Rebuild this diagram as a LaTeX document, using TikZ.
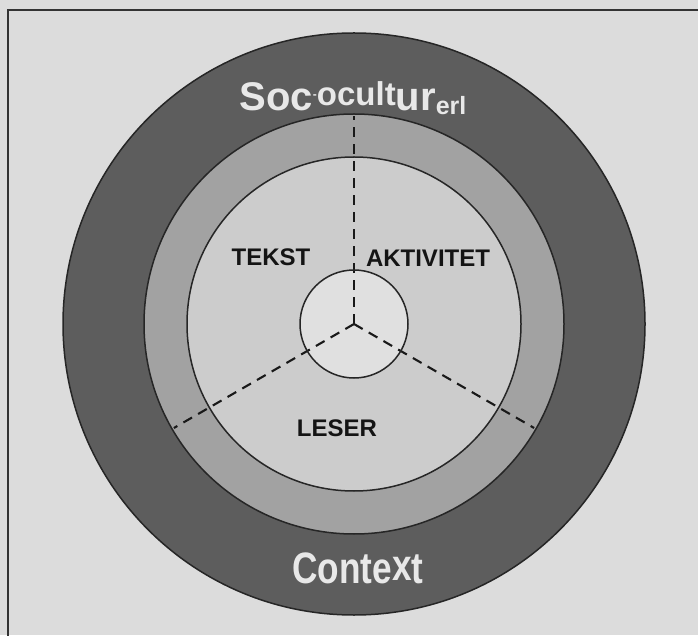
\documentclass[tikz,border=0pt]{standalone}
\usepackage{fontspec}
\setmainfont{Liberation Sans}[BoldFont={Liberation Sans Bold}]
\usepackage{tikz}
\usetikzlibrary{positioning}
\definecolor{lkbg}{HTML}{DCDCDC}
\definecolor{lkouter}{HTML}{5D5D5D}
\definecolor{lkmid}{HTML}{A2A2A2}
\definecolor{lkinner}{HTML}{CCCCCC}
\definecolor{lkcore}{HTML}{E0E0E0}
\definecolor{lkpale}{HTML}{E8E8E8}

\begin{document}
\begin{tikzpicture}[x=1pt,y=1pt,
  ring/.style={draw=black!85,line width=1.5pt},
  spoke/.style={draw=black!90,line width=2.1pt,dash pattern=on 10pt off 7pt},
  part/.style={font=\fontsize{24}{24}\selectfont\bfseries,text=black!92,inner sep=0pt},
  ringlbl/.style={font=\fontsize{40}{40}\selectfont\bfseries,text=lkpale,inner sep=0pt}]
  \useasboundingbox (0,0) rectangle (698,635);
  % paper and frame
  \fill[lkbg] (0,0) rectangle (698,635);
  \draw[line width=2.5pt,black!80] (8,-5) |- (705,625);
  \coordinate (c) at (354,311);
  % rings from outside in
  \fill[lkouter] (c) circle[radius=291pt];
  \draw[ring] (c) circle[radius=291pt];
  \fill[lkmid] (c) circle[radius=210pt];
  \draw[ring] (c) circle[radius=210pt];
  \fill[lkinner] (c) circle[radius=167pt];
  \draw[ring] (c) circle[radius=167pt];
  \fill[lkcore] (c) circle[radius=54pt];
  % three sectors
  \coordinate (up) at ([shift={(90:208pt)}]c);
  \coordinate (lo-l) at ([shift={(210:208pt)}]c);
  \coordinate (lo-r) at ([shift={(330:208pt)}]c);
  \draw[spoke] (c) -- (up);
  \draw[spoke] (c) -- (lo-l);
  \draw[spoke] (c) -- (lo-r);
  \draw[ring] (c) circle[radius=54pt];
  % labels
  \node[part] (tekst) at (271,378) {TEKST};
  \node[part] (aktiv) at (428,377) {AKTIVITET};
  \node[part] (leser) at (337,207) {LESER};
  \node[ringlbl] (socio) at (353,537)
    {Soc\raisebox{12pt}{\fontsize{12}{12}\selectfont -}\raisebox{5pt}{\fontsize{33}{33}\selectfont ocult}ur\raisebox{-4pt}{\fontsize{25}{25}\selectfont erl}};
  \node[ringlbl,font=\fontsize{44}{44}\selectfont\bfseries] (ctx) at (358,67)
    {\scalebox{0.8}[1]{Conte\raisebox{3pt}{x}t}};
\end{tikzpicture}
\end{document}
